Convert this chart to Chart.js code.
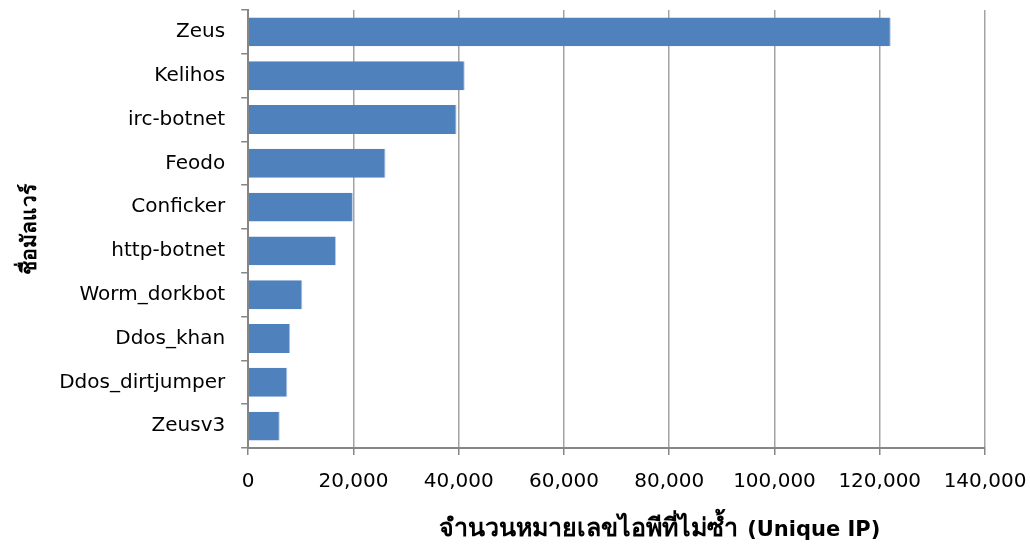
<!DOCTYPE html>
<html lang="th">
<head>
<meta charset="UTF-8">
<script src="https://cdn.jsdelivr.net/npm/chart.js"></script>
<title>Unique IP by malware</title>
<style>
    html, body { margin: 0; padding: 0; background: #fff; }
    #wrap { width: 1030px; height: 544px; }
</style>
</head>
<body>
<div id="wrap"><canvas id="botChart"></canvas></div>
<script>
    // malware names and their unique IP counts
    const malwareNames = ['Zeus', 'Kelihos', 'irc-botnet', 'Feodo', 'Conficker', 'http-botnet',
        'Worm_dorkbot', 'Ddos_khan', 'Ddos_dirtjumper', 'Zeusv3'];
    const uniqueIps = [122100, 41150, 39600, 26100, 19900, 16700, 10300, 8000, 7450, 6000];
    const xTicks = [0, 20000, 40000, 60000, 80000, 100000, 120000, 140000];

    // x title is drawn in two runs: Thai words, then the English part
    const xTitleThai = 'จำนวนหมายเลขไอพีที่ไม่ซ้ำ';
    const xTitleEn = '(Unique IP)';
    const yTitle = 'ชื่อมัลแวร์';

    const baseFont = "'DejaVu Sans', Tahoma, 'Noto Sans', sans-serif";
    const gridGrey = '#a3a3a3';
    const axisGrey = '#868686';

    const xTitlePlugin = {
        id: 'xTitlePlugin',
        afterDraw(chart) {
            const ctx = chart.ctx;
            const area = chart.chartArea;
            ctx.save();
            ctx.fillStyle = '#000';
            ctx.textAlign = 'left';
            ctx.textBaseline = 'alphabetic';
            const y = 536;
            let x = area.left + 191;
            ctx.font = "bold 25px " + baseFont;
            ctx.fillText(xTitleThai, x, y);
            x += ctx.measureText(xTitleThai).width + 9;
            ctx.font = "bold 21px " + baseFont;
            ctx.fillText(xTitleEn, x, y);
            ctx.restore();
        }
    };

    const ctx = document.getElementById('botChart').getContext('2d');
    new Chart(ctx, {
        type: 'bar',
        data: {
            labels: malwareNames,
            datasets: [{
                data: uniqueIps,
                backgroundColor: '#4f81bd',
                borderColor: '#b9cde5',
                borderWidth: { top: 0, bottom: 0, left: 0, right: 1 },
                categoryPercentage: 1,
                barPercentage: 0.66
            }]
        },
        options: {
            indexAxis: 'y',
            responsive: true,
            maintainAspectRatio: false,
            animation: false,
            layout: { padding: { left: 6, right: 0, top: 10, bottom: 35 } },
            plugins: {
                legend: { display: false },
                tooltip: { enabled: false }
            },
            scales: {
                x: {
                    min: 0,
                    max: 140000,
                    afterBuildTicks(scale) {
                        scale.ticks = xTicks.map(v => ({ value: v }));
                    },
                    afterFit(scale) {
                        scale.paddingLeft = 0;
                        scale.paddingRight = 45;
                    },
                    ticks: {
                        color: '#000',
                        font: { family: baseFont, size: 20 },
                        padding: 15,
                        maxRotation: 0,
                        callback: v => v.toLocaleString('en-US')
                    },
                    grid: { color: gridGrey, lineWidth: 1.5, tickLength: 7, tickColor: axisGrey },
                    border: { color: axisGrey, width: 2 }
                },
                y: {
                    afterFit(scale) {
                        scale.paddingTop = 0;
                        scale.paddingBottom = 0;
                    },
                    ticks: {
                        color: '#000',
                        font: { family: baseFont, size: 20 },
                        padding: 16
                    },
                    grid: {
                        offset: true,
                        drawOnChartArea: false,
                        tickLength: 7,
                        tickColor: axisGrey,
                        lineWidth: 1.5
                    },
                    border: { color: axisGrey, width: 2 },
                    title: {
                        display: true,
                        text: yTitle,
                        color: '#000',
                        font: { family: baseFont, size: 21, weight: 'bold' },
                        padding: { top: 12, bottom: 0 }
                    }
                }
            }
        },
        plugins: [xTitlePlugin]
    });
</script>
</body>
</html>
